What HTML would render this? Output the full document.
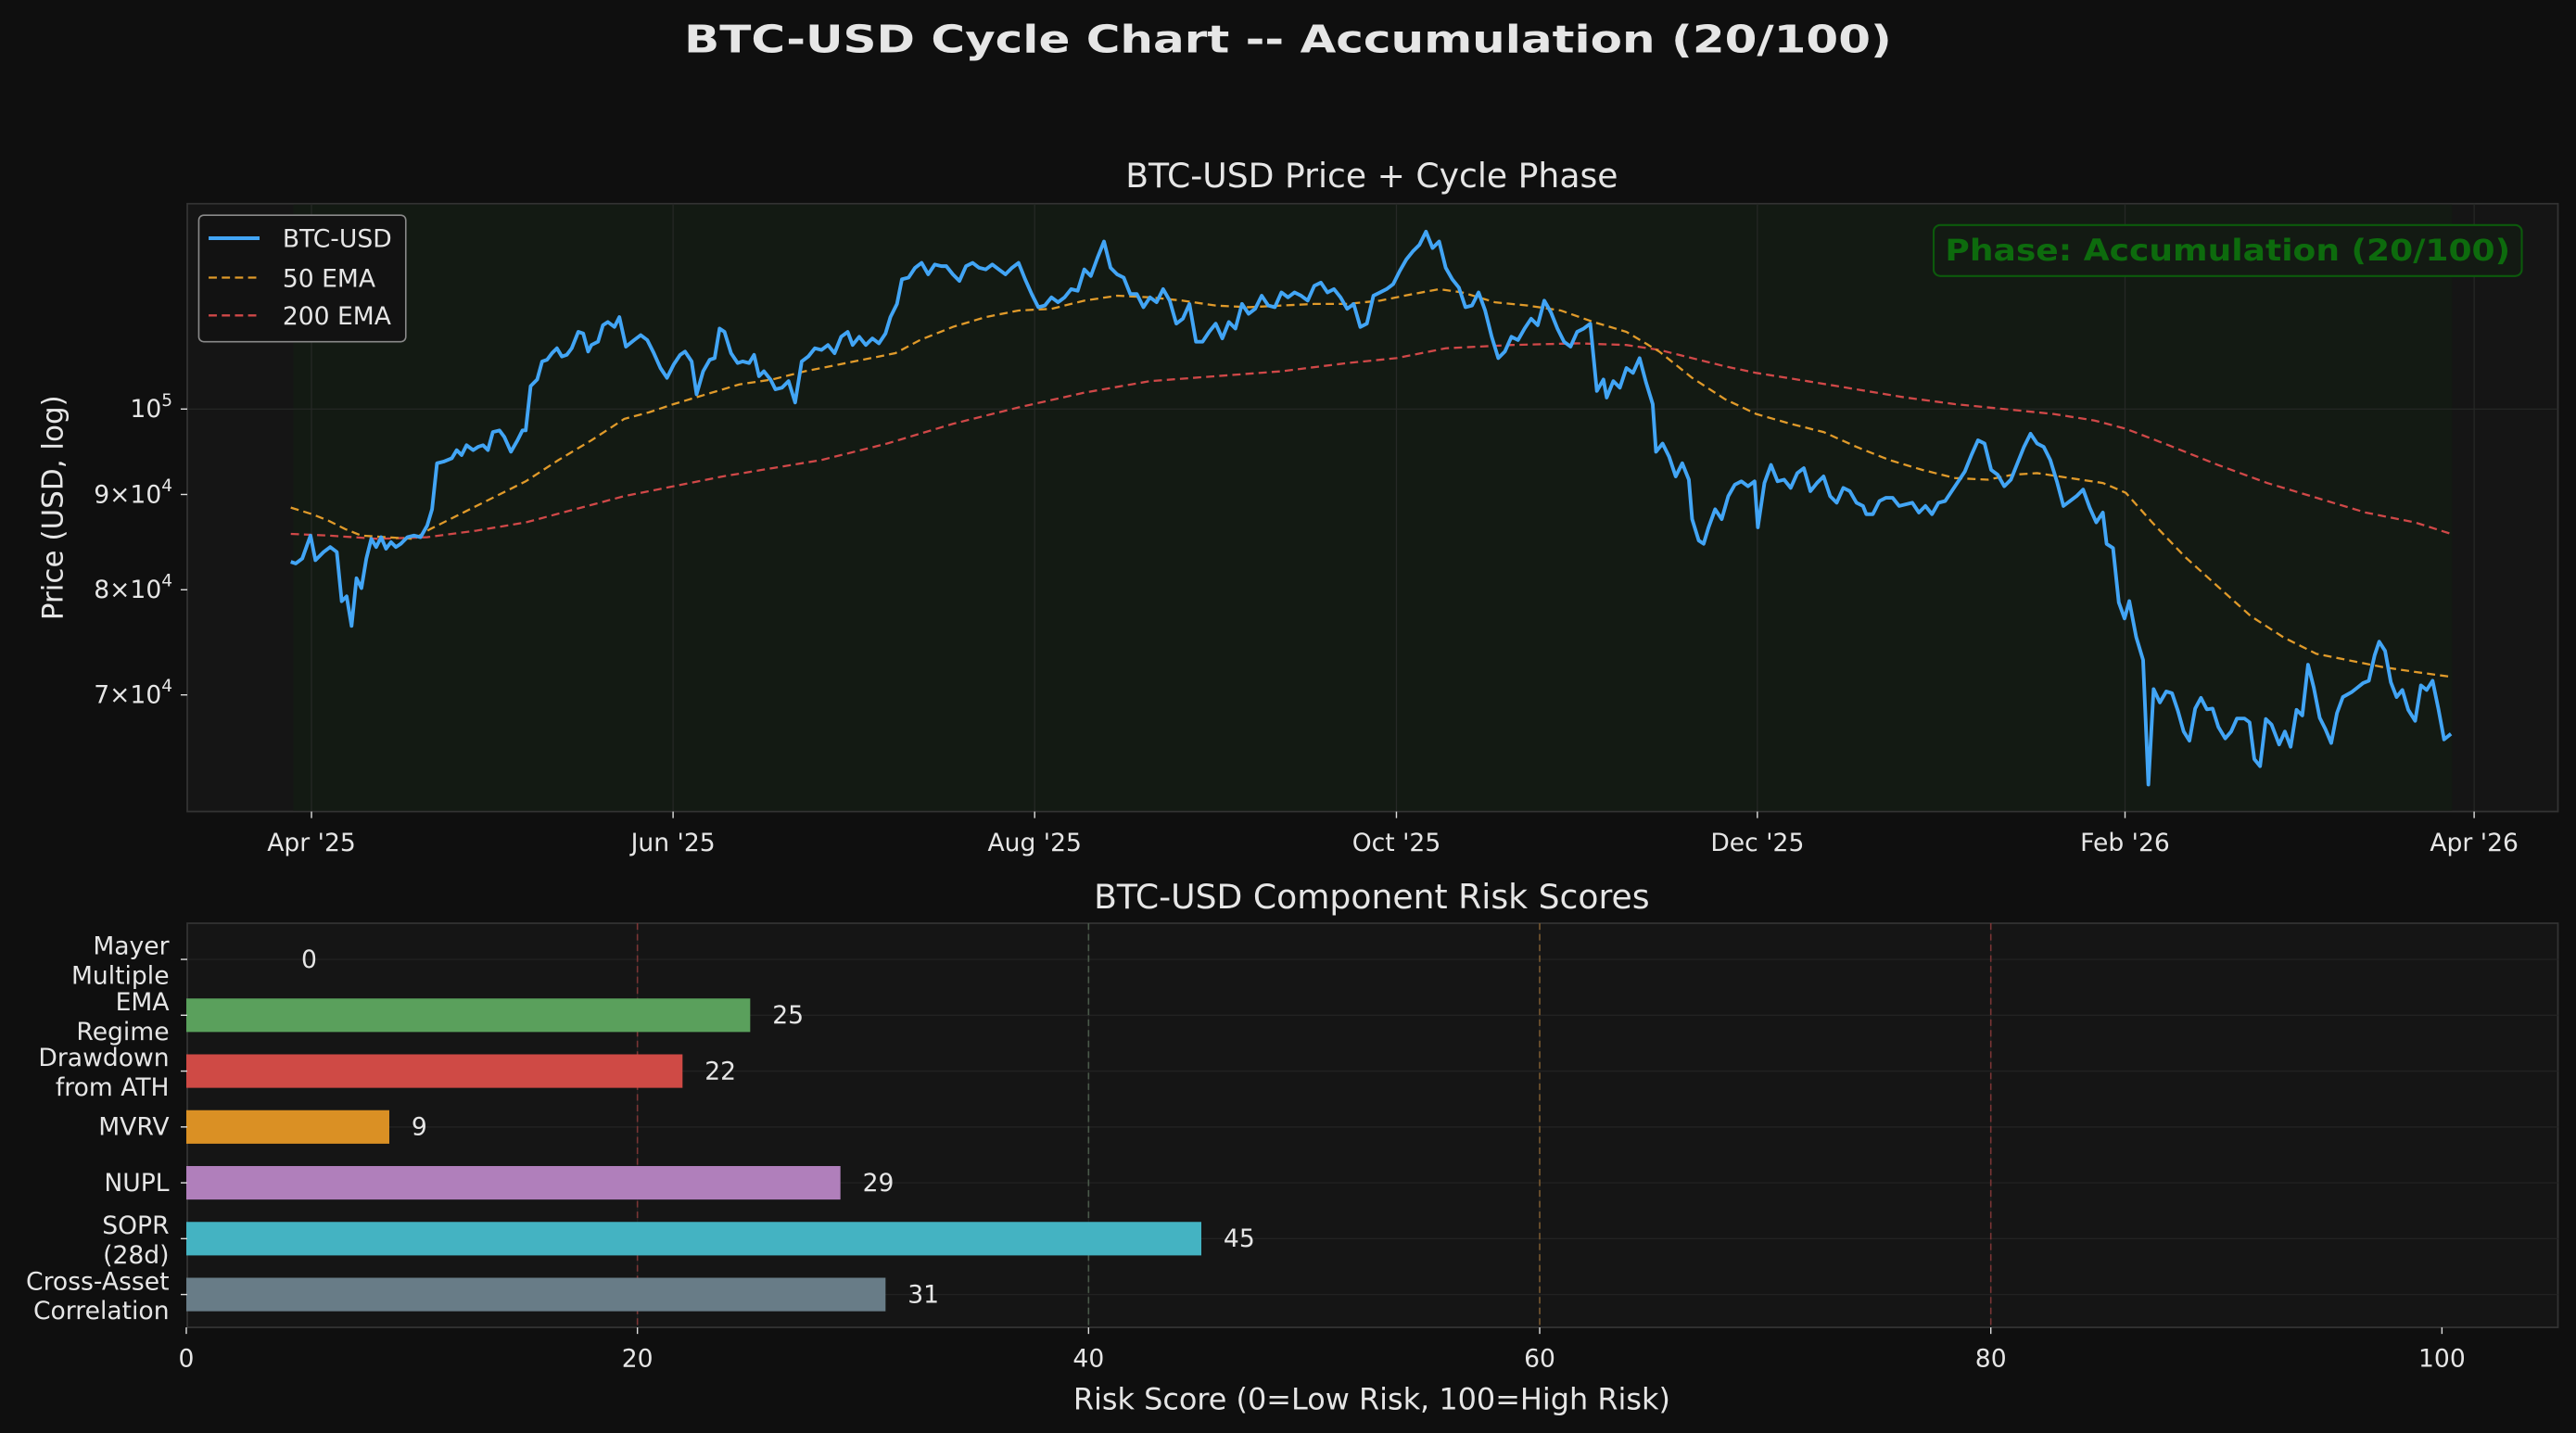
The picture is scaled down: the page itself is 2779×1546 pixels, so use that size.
<!DOCTYPE html>
<html><head><meta charset="utf-8"><style>
html,body{margin:0;padding:0;background:#0f0f0f;}
svg{display:block}
text{font-family:"DejaVu Sans","Liberation Sans",sans-serif;fill:#e6e6e6}
</style></head><body>
<svg id="s" width="2779" height="1546" viewBox="0 0 1568 872.3" xmlns="http://www.w3.org/2000/svg">
<rect x="0" y="0" width="1568" height="872.3" fill="#0f0f0f"/>
<text x="784" y="32" font-size="23" font-weight="bold" text-anchor="middle" textLength="735" lengthAdjust="spacingAndGlyphs">BTC-USD Cycle Chart -- Accumulation (20/100)</text>

<rect x="114" y="124" width="1443" height="370" fill="#151515" stroke="#333" stroke-width="1"/>
<rect x="178.5" y="124.5" width="1314" height="369" fill="#131a13"/>
<g id="tgrid" stroke="#262826" stroke-width="0.7"></g>
<text x="835" y="114" font-size="20.4" text-anchor="middle">BTC-USD Price + Cycle Phase</text>
<text transform="translate(38,309) rotate(-90)" font-size="17.5" text-anchor="middle">Price (USD, log)</text>
<g id="ytl" font-size="15" text-anchor="end"></g>
<g id="xtl" font-size="15" text-anchor="middle"></g>
<path id="e200" fill="none" stroke="#d04848" stroke-width="1.3" stroke-dasharray="5,3"/>
<path id="e50" fill="none" stroke="#e09a2a" stroke-width="1.3" stroke-dasharray="5,3"/>
<path id="px" fill="none" stroke="#42a5f5" stroke-width="2.2" stroke-linejoin="round"/>
<rect x="121" y="131" width="126" height="77" rx="3" fill="#121212" stroke="#8a8a8a" stroke-width="0.9"/>
<line x1="127" y1="145" x2="158" y2="145" stroke="#42a5f5" stroke-width="2.2"/>
<line x1="127" y1="169" x2="158" y2="169" stroke="#e09a2a" stroke-width="1.3" stroke-dasharray="5,3"/>
<line x1="127" y1="192" x2="158" y2="192" stroke="#d04848" stroke-width="1.3" stroke-dasharray="5,3"/>
<text x="172" y="150.5" font-size="15">BTC-USD</text>
<text x="172" y="174.5" font-size="15">50 EMA</text>
<text x="172" y="197.5" font-size="15">200 EMA</text>
<rect x="1177" y="137" width="358" height="31" rx="4" fill="#131a13" stroke="#0c5a0c" stroke-width="1.2"/>
<text x="1356" y="158.5" font-size="18" font-weight="bold" text-anchor="middle" style="fill:#0d6b0d" textLength="344" lengthAdjust="spacingAndGlyphs">Phase: Accumulation (20/100)</text>

<text x="835" y="553" font-size="20.4" text-anchor="middle">BTC-USD Component Risk Scores</text>
<rect x="114" y="562" width="1443" height="246" fill="#151515" stroke="#333" stroke-width="1"/>
<g id="bars"></g>
<g id="bxt" font-size="15" text-anchor="middle"></g>
<text x="835" y="858" font-size="18" text-anchor="middle">Risk Score (0=Low Risk, 100=High Risk)</text>
</svg>
<script>
var NS="http://www.w3.org/2000/svg";
function el(t,a,p,txt){var e=document.createElementNS(NS,t);for(var k in a)e.setAttribute(k,a[k]);if(txt!==undefined)e.textContent=txt;(p||document.getElementById('s')).appendChild(e);return e;}
function pts(a){var s="";for(var i=0;i<a.length;i+=2)s+=(i?"L":"M")+a[i].toFixed(1)+","+a[i+1].toFixed(1);return s;}
var tg=document.getElementById('tgrid');
var xt=[[189.6,"Apr '25"],[409.7,"Jun '25"],[629.8,"Aug '25"],[850,"Oct '25"],[1069.7,"Dec '25"],[1293.5,"Feb '26"],[1506,"Apr '26"]];
xt.forEach(function(t){el('line',{x1:t[0],y1:124,x2:t[0],y2:494},tg);el('line',{x1:t[0],y1:494,x2:t[0],y2:498,stroke:'#ddd','stroke-width':0.8});el('text',{x:t[0],y:518},document.getElementById('xtl'),t[1]);});
el('line',{x1:114,y1:249,x2:1557,y2:249},tg);
var yl=document.getElementById('ytl');
[[249,"10","5"],[301,"9×10","4"],[359,"8×10","4"],[423,"7×10","4"]].forEach(function(t){
 el('line',{x1:110,y1:t[0],x2:114,y2:t[0],stroke:'#ddd','stroke-width':0.8});
 var tx=el('text',{x:105,y:t[0]+5},yl);tx.textContent=t[1];el('tspan',{dy:-7,'font-size':10.5},tx,t[2]);
});
var P=[177,342,180,343,184,340,189,326,192,341,197,336,201,333,205,336,208,366,211,363,214,381,217,352,220,358,223,340,226,328,229,333,232,327,235,334,238,330,241,333,244,331,248,327,252,326,256,327,260,320,263,310,266,282,270,281,275,279,278,274,281,277,284,271,288,274,291,272,294,271,297,274,300,263,304,262,307,266,311,275,315,268,318,262,320,262,323,235,327,231,330,220,333,219,336,215,339,212,342,217,345,216,348,212,352,202,355,203,358,214,360,210,364,208,367,198,370,196,374,199,377,193,381,211,386,207,390,204,394,207,398,215,402,224,406,230,410,222,414,216,417,214,421,220,424,240,428,226,432,219,435,218,438,200,441,202,445,215,449,221,452,220,456,221,459,216,462,229,465,226,469,231,472,237,476,236,480,232,484,245,488,220,492,217,496,212,500,213,504,210,508,215,512,205,516,202,519,210,523,205,527,210,531,206,535,209,539,203,542,193,546,185,549,170,553,169,557,163,561,160,565,167,569,161,573,162,576,162,580,167,584,171,588,162,592,160,596,163,600,164,604,161,608,164,612,167,616,163,620,160,624,170,628,179,632,187,636,186,640,181,644,184,648,181,652,176,656,177,660,164,664,168,668,157,672,147,676,163,680,167,684,169,688,179,692,179,696,187,700,181,704,184,708,176,712,183,716,197,720,194,724,185,728,208,732,208,736,202,740,197,744,206,748,196,752,200,756,185,760,191,764,188,768,180,772,186,776,187,780,178,784,181,788,178,792,180,796,183,800,174,804,172,808,178,812,176,816,181,820,188,824,185,828,199,832,197,836,180,840,178,844,176,848,173,852,165,856,158,860,153,864,149,868,141,872,151,876,147,880,163,884,170,888,175,892,187,896,186,900,178,904,189,908,205,912,218,916,214,920,205,924,207,928,200,932,194,936,198,940,183,944,190,948,200,952,208,956,211,960,202,964,200,968,197,972,238,976,231,978,242,982,232,986,236,990,224,994,227,998,218,1002,233,1006,246,1008,275,1012,270,1016,278,1020,290,1024,282,1028,292,1030,316,1034,329,1037,331,1040,321,1044,310,1048,316,1052,302,1056,295,1060,293,1064,296,1068,293,1070,321,1074,294,1078,283,1082,293,1086,292,1090,297,1094,288,1098,285,1102,299,1106,294,1110,290,1114,302,1118,306,1122,297,1126,299,1130,306,1134,308,1136,313,1140,313,1144,305,1148,303,1152,303,1156,308,1160,307,1164,306,1168,312,1172,308,1176,313,1180,306,1184,305,1188,299,1192,293,1196,287,1200,277,1204,268,1208,270,1212,286,1216,289,1220,296,1224,292,1228,282,1232,272,1236,264,1240,270,1244,272,1248,280,1252,293,1256,308,1260,305,1264,302,1268,298,1272,309,1276,318,1280,312];
var Z=[757,878,768,887,778,1005,788,1040,796,1002,808,1080,820,1130,829,1400,838,1193,849,1222,860,1198,870,1202,880,1240,890,1285,900,1305,910,1235,920,1212,930,1237,940,1235,950,1275,962,1300,972,1285,982,1257,995,1257,1004,1265,1012,1345,1022,1360,1032,1258,1042,1270,1055,1313,1065,1285,1075,1318,1085,1238,1095,1250,1105,1140,1115,1190,1125,1255,1135,1280,1145,1310,1155,1245,1165,1210,1180,1200,1190,1190,1200,1180,1210,1175,1220,1120,1228,1090,1238,1110,1248,1178,1258,1210,1268,1195,1278,1238,1290,1262,1300,1185,1310,1195,1320,1175,1330,1235,1340,1302,1352,1290];
for(var i=0;i<Z.length;i+=2){P.push((1800+Z[i]/1.6016)/1.7723,(150+Z[i+1]/2.0103)/1.7723);}
document.getElementById('px').setAttribute('d',pts(P));
var E50=[177,309,190,313,200,317,210,322,220,326,235,327,252,328,262,322,280,313,300,303,320,293,340,280,360,268,380,255,395,251,410,246,430,240,450,234,470,231,490,226,510,222,530,218,545,215,560,207,580,199,600,193,620,189,640,188,660,183,680,180,700,181,720,183,740,186,760,187,780,186,800,185,820,185,840,183,860,179,876,176,890,178,910,184,930,186,950,189,970,196,990,202,1010,214,1030,230,1050,243,1069,252,1090,258,1110,263,1130,272,1150,280,1170,286,1190,291,1210,292,1225,289,1240,288,1260,291,1280,294,1294,300,1310,318,1330,339,1350,357,1370,375,1390,388,1410,398,1430,402,1450,406,1470,409,1492,412];
var E200=[177,325,200,326,230,328,260,327,290,323,320,318,350,310,380,302,410,296,440,290,470,285,500,280,540,270,580,258,620,248,660,239,700,232,740,229,780,226,820,221,850,218,880,212,920,210,960,209,990,210,1010,213,1030,218,1050,223,1069,227,1100,232,1130,237,1160,242,1190,246,1220,249,1250,252,1275,256,1294,261,1320,271,1350,283,1380,294,1410,303,1440,312,1470,318,1492,325];
document.getElementById('e50').setAttribute('d',pts(E50));
document.getElementById('e200').setAttribute('d',pts(E200));
var B=document.getElementById('bars');
var x0=113.4,k=13.73;
for(var j=0;j<7;j++){var cy=584+j*34;el('line',{x1:114,y1:cy,x2:1557,y2:cy,stroke:'#222','stroke-width':0.8},B);}
for(var v=0;v<=100;v+=20){var X=x0+v*k;if(v>0&&v<100)el('line',{x1:X,y1:562,x2:X,y2:808,stroke:'#202020','stroke-width':0.7},B);el('line',{x1:X,y1:808,x2:X,y2:812,stroke:'#ddd','stroke-width':0.8});el('text',{x:X,y:832},document.getElementById('bxt'),String(v));}
var V=[[20,'#7a3535'],[40,'#4a5a4a'],[60,'#7a5a30'],[80,'#7a3535']];
V.forEach(function(d){var X=x0+d[0]*k;el('line',{x1:X,y1:562,x2:X,y2:808,stroke:d[1],'stroke-width':0.9,'stroke-dasharray':'4,2.5'},B);});
var D=[[["Mayer","Multiple"],0,'#555'],[["EMA","Regime"],25,'#5aa05c'],[["Drawdown","from ATH"],22,'#cf4a45'],[["MVRV"],9,'#da9024'],[["NUPL"],29,'#b07fbb'],[["SOPR","(28d)"],45,'#44b3c2'],[["Cross-Asset","Correlation"],31,'#687c87']];
D.forEach(function(d,j){var cy=584+j*34;
 if(d[1]>0)el('rect',{x:x0,y:cy-10.2,width:d[1]*k,height:20.4,fill:d[2]},B);
 el('text',{x:x0+d[1]*k+(d[1]>0?13.5:70),y:cy+5,'font-size':15},B,String(d[1]));
 el('line',{x1:110,y1:cy,x2:114,y2:cy,stroke:'#ddd','stroke-width':0.8},B);
 if(d[0].length==1)el('text',{x:103,y:cy+5,'font-size':15,'text-anchor':'end'},B,d[0][0]);
 else{el('text',{x:103,y:cy-3,'font-size':15,'text-anchor':'end'},B,d[0][0]);el('text',{x:103,y:cy+15,'font-size':15,'text-anchor':'end'},B,d[0][1]);}
});
</script>
</body></html>
